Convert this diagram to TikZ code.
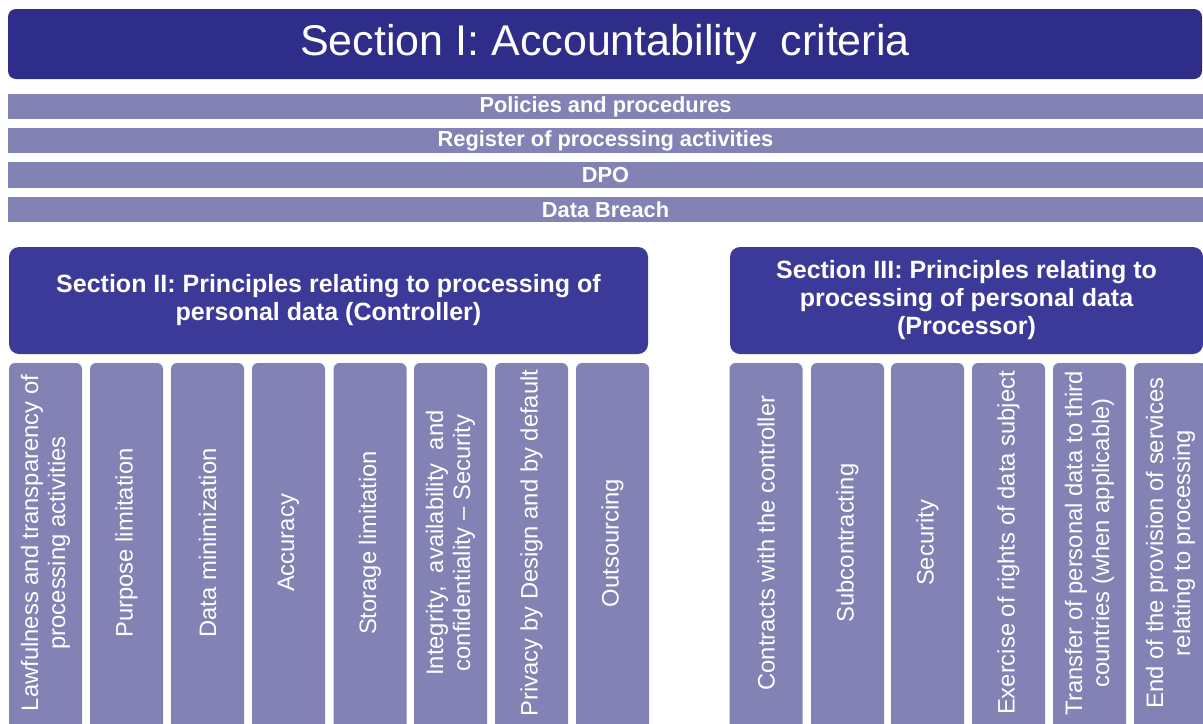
\documentclass[tikz,border=0pt]{standalone}
\usepackage{fontspec}
\setmainfont{Liberation Sans}
\definecolor{titlebg}{HTML}{2E2D8A}
\definecolor{secbg}{HTML}{3B3A98}
\definecolor{barbg}{HTML}{8282B4}
\begin{document}
\begin{tikzpicture}[x=0.5pt,y=-0.5pt,
  titlebox/.style={fill=titlebg, rounded corners=4pt, minimum width=597pt, minimum height=35pt, inner sep=0pt, text=white, font=\fontsize{21.5}{26}\selectfont},
  barbox/.style={fill=barbg, minimum width=597.5pt, minimum height=12.75pt, inner sep=0pt, text=white, font=\fontsize{10.9}{12}\selectfont\bfseries},
  secbox/.style={fill=secbg, rounded corners=5pt, minimum height=53.5pt, inner sep=0pt, text=white, align=center, font=\fontsize{12.5}{14}\selectfont\bfseries},
  colbox/.style={fill=barbg, rounded corners=3pt, minimum width=36.5pt, minimum height=188.5pt, inner sep=0pt},
  coltext/.style={rotate=90, text=white, align=center, font=\fontsize{11.9}{13.5}\selectfont, inner sep=0pt}
]
\clip (0,0) rectangle (1203,723);
\node[titlebox] (title) at (605,44) {Section I: Accountability\ \ criteria};
\node[barbox] (b1) at (605.5,106.5) {Policies and procedures};
\node[barbox] (b2) at (605.5,140.5) {Register of processing activities};
\node[barbox] (b3) at (605.5,175) {DPO};
\node[barbox] (b4) at (605.5,209.5) {Data Breach};
\node[secbox, minimum width=319.5pt] (s2) at (328.5,300.5) {Section II: Principles relating to processing of\\personal data (Controller)};
\node[secbox, minimum width=236.5pt] (s3) at (966.5,300.5) {Section III: Principles relating to\\processing of personal data\\(Processor)};
\foreach \n/\x/\t in {
  c1/45.5/{Lawfulness and transparency of\\processing activities},
  c2/126.5/{Purpose limitation},
  c3/207.5/{Data minimization},
  c4/288.5/{Accuracy},
  c5/370/{Storage limitation},
  c6/450.5/{Integrity,\ \ availability\ \ and\\confidentiality -- Security},
  c7/531.5/{Privacy by Design and by default},
  c8/612.5/{Outsourcing},
  d1/766/{Contracts with the controller},
  d2/847.5/{Subcontracting},
  d3/927.5/{Security},
  d4/1008.5/{Exercise of rights of data subject},
  d5/1089.5/{Transfer of personal data to third\\countries (when applicable)},
  d6/1170.5/{End of the provision of services\\relating to processing}}{
  \node[colbox] (\n) at (\x,551.5) {};
  \node[coltext] (\n t) at (\x,543) {\t};
}
\end{tikzpicture}
\end{document}
